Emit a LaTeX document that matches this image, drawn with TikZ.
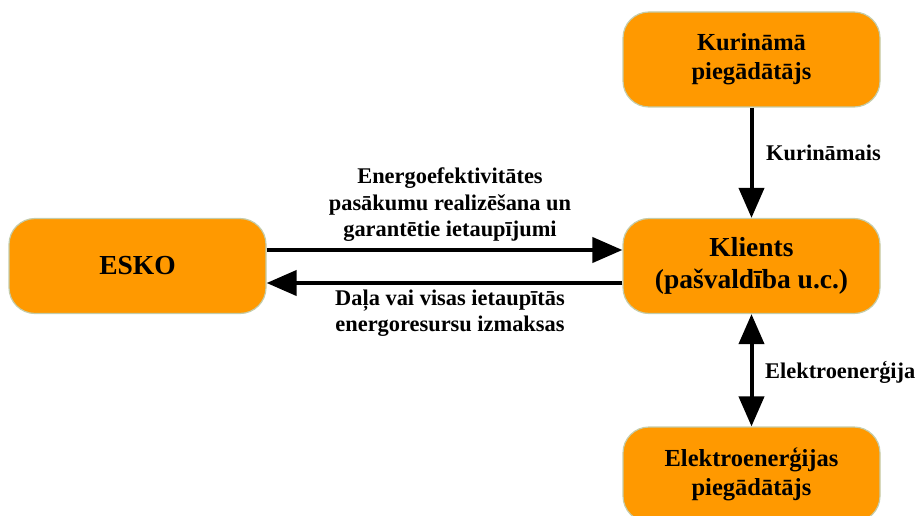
\documentclass[tikz,border=0pt]{standalone}
\usepackage{fontspec}
\setmainfont{Liberation Serif}
\usetikzlibrary{arrows.meta}
\definecolor{boxfill}{RGB}{255,153,0}
\definecolor{boxline}{RGB}{196,204,170}
\begin{document}
\begin{tikzpicture}[x=1pt,y=1pt,
  box/.style={draw=boxline, line width=1.2pt, fill=boxfill, rounded corners=26pt,
    minimum width=257pt, minimum height=95pt, align=center, inner sep=0pt,
    font=\fontsize{24.5}{29}\selectfont\bfseries},
  bigbox/.style={box, font=\fontsize{27.5}{32}\selectfont\bfseries},
  lbl/.style={align=center, inner sep=0pt, font=\fontsize{22.4}{26.5}\selectfont\bfseries},
  arr/.style={line width=4pt, -{Triangle[length=30pt,width=25pt]}},
  darr/.style={line width=4pt, {Triangle[length=30pt,width=25pt]}-{Triangle[length=30pt,width=25pt]}}]
\useasboundingbox (0,0) rectangle (920,-516);
\node[box] (kur) at (751.5,-59.5) {Kurinām\={a}\\pieg\={a}d\={a}t\={a}js};
\node[bigbox] (kli) at (751.5,-266) {Klients\\(pašvaldība u.c.)};
\node[bigbox] (esko) at (137.5,-266) {ESKO};
\node[box] (ele) at (751.5,-474.5) {Elektroenerģijas\\piegādātājs};
\draw[arr] ([yshift=16pt]esko.east) -- ([yshift=16pt]kli.west);
\draw[arr] ([yshift=-17pt]kli.west) -- ([yshift=-17pt]esko.east);
\draw[arr] (kur.south) -- (kli.north);
\draw[darr] (kli.south) -- (ele.north);
\node[lbl] (l1) at (450,-205) {Energoefektivitātes\\pasākumu realizēšana un\\garantētie ietaupījumi};
\node[lbl] (l2) at (450,-313) {Daļa vai visas ietaupītās\\energoresursu izmaksas};
\node[lbl, anchor=west] (l3) at (766,-153) {Kurināmais};
\node[lbl, anchor=west] (l4) at (765,-372) {Elektroenerģija};
\end{tikzpicture}
\end{document}
